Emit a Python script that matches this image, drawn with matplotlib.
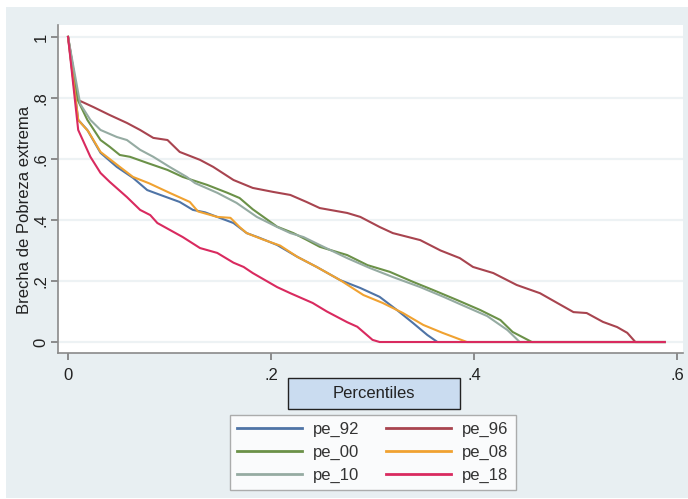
import matplotlib
matplotlib.use('Agg')
import matplotlib.pyplot as plt
from matplotlib.patches import Rectangle

plt.rcParams['font.family'] = ['Liberation Sans', 'DejaVu Sans']

# ── Data ─────────────────────────────────────────────────────────────────────
pe_92_x = [0, 0.010, 0.019, 0.032, 0.048, 0.064, 0.078, 0.091, 0.110, 0.123, 0.135, 0.147,
           0.163, 0.176, 0.189, 0.206, 0.226, 0.245, 0.268, 0.288, 0.307, 0.324, 0.340,
           0.354, 0.364, 0.588]
pe_92_y = [1, 0.728, 0.695, 0.620, 0.574, 0.538, 0.498, 0.482, 0.459, 0.433, 0.425, 0.410,
           0.390, 0.357, 0.341, 0.318, 0.279, 0.246, 0.203, 0.177, 0.148, 0.105, 0.062,
           0.023, 0, 0]

pe_96_x = [0, 0.010, 0.025, 0.041, 0.058, 0.071, 0.084, 0.098, 0.110, 0.130, 0.143, 0.163,
           0.182, 0.202, 0.219, 0.235, 0.248, 0.275, 0.288, 0.307, 0.320, 0.347, 0.367,
           0.386, 0.399, 0.419, 0.442, 0.465, 0.482, 0.498, 0.511, 0.527, 0.541, 0.551,
           0.559, 0.588]
pe_96_y = [1, 0.793, 0.770, 0.744, 0.718, 0.695, 0.669, 0.662, 0.623, 0.597, 0.574, 0.531,
           0.505, 0.492, 0.482, 0.459, 0.439, 0.423, 0.410, 0.377, 0.357, 0.334, 0.300,
           0.275, 0.246, 0.226, 0.187, 0.160, 0.128, 0.098, 0.095, 0.066, 0.049, 0.030,
           0, 0]

pe_00_x = [0, 0.010, 0.019, 0.032, 0.041, 0.051, 0.061, 0.078, 0.098, 0.113, 0.137, 0.157,
           0.169, 0.182, 0.206, 0.222, 0.235, 0.248, 0.275, 0.295, 0.317, 0.340, 0.360,
           0.383, 0.406, 0.426, 0.438, 0.457, 0.588]
pe_00_y = [1, 0.790, 0.728, 0.662, 0.640, 0.613, 0.607, 0.587, 0.564, 0.541, 0.515, 0.489,
           0.472, 0.435, 0.378, 0.357, 0.335, 0.312, 0.285, 0.252, 0.230, 0.197, 0.170,
           0.138, 0.105, 0.072, 0.033, 0, 0]

pe_08_x = [0, 0.010, 0.020, 0.032, 0.051, 0.064, 0.080, 0.100, 0.120, 0.128, 0.147, 0.160,
           0.169, 0.176, 0.192, 0.209, 0.226, 0.245, 0.268, 0.291, 0.310, 0.330, 0.350,
           0.369, 0.393, 0.588]
pe_08_y = [1, 0.728, 0.690, 0.623, 0.574, 0.541, 0.520, 0.489, 0.459, 0.428, 0.410, 0.407,
           0.377, 0.357, 0.336, 0.316, 0.279, 0.246, 0.203, 0.154, 0.128, 0.095, 0.056,
           0.030, 0, 0]

pe_10_x = [0, 0.012, 0.022, 0.032, 0.048, 0.058, 0.071, 0.084, 0.100, 0.117, 0.125, 0.147,
           0.166, 0.186, 0.206, 0.219, 0.232, 0.248, 0.275, 0.297, 0.320, 0.347, 0.370,
           0.389, 0.413, 0.433, 0.445, 0.588]
pe_10_y = [1, 0.780, 0.728, 0.695, 0.672, 0.662, 0.630, 0.607, 0.574, 0.541, 0.521, 0.489,
           0.456, 0.410, 0.377, 0.357, 0.344, 0.318, 0.275, 0.243, 0.213, 0.180, 0.148,
           0.120, 0.085, 0.039, 0, 0]

pe_18_x = [0, 0.010, 0.022, 0.032, 0.041, 0.058, 0.071, 0.081, 0.088, 0.113, 0.130, 0.147,
           0.163, 0.173, 0.182, 0.206, 0.219, 0.241, 0.255, 0.275, 0.285, 0.300, 0.307,
           0.588]
pe_18_y = [1, 0.695, 0.607, 0.554, 0.525, 0.475, 0.433, 0.416, 0.390, 0.344, 0.308, 0.292,
           0.260, 0.246, 0.226, 0.180, 0.160, 0.128, 0.100, 0.065, 0.050, 0.007, 0, 0]

series = [
    ('pe_92', pe_92_x, pe_92_y, '#4f74a6'),
    ('pe_96', pe_96_x, pe_96_y, '#a8444f'),
    ('pe_00', pe_00_x, pe_00_y, '#6b9148'),
    ('pe_08', pe_08_x, pe_08_y, '#f0a231'),
    ('pe_10', pe_10_x, pe_10_y, '#95aba2'),
    ('pe_18', pe_18_x, pe_18_y, '#d92a5f'),
]

x_ticks = [0, 0.2, 0.4, 0.6]
x_tick_labels = ['0', '.2', '.4', '.6']
y_ticks = [0, 0.2, 0.4, 0.6, 0.8, 1]
y_tick_labels = ['0', '.2', '.4', '.6', '.8', '1']

W, H = 688, 499
BG = '#e8eff2'
TXT = '#222222'

# ── Figure ───────────────────────────────────────────────────────────────────
fig = plt.figure(figsize=(W / 100, H / 100), dpi=100)
fig.patch.set_facecolor('white')
fig.patches.append(Rectangle((6 / W, 1 - 498 / H), (W - 6) / W, (498 - 7) / H,
                             transform=fig.transFigure, facecolor=BG, edgecolor='none',
                             zorder=-10))

ax = fig.add_axes([58 / W, 1 - 353 / H, (683 - 58) / W, (353 - 25) / H])
ax.set_facecolor('white')

handles = {}
for name, xs, ys, col in series:
    handles[name], = ax.plot(xs, ys, color=col, lw=1.5, label=name, solid_joinstyle='round')

ax.set_xlim(-0.0099, 0.6059)
ax.set_ylim(-0.036, 1.039)

ax.set_xticks(x_ticks, x_tick_labels)
ax.set_yticks(y_ticks, y_tick_labels)
ax.tick_params(axis='both', colors='#7a7a7a', length=5, width=1.2, labelcolor=TXT,
               labelsize=12)
for lab in ax.get_yticklabels():
    lab.set_rotation(90)
    lab.set_va('center')
ax.tick_params(axis='y', pad=2)
ax.tick_params(axis='x', pad=6)

ax.grid(axis='y', color='#edf2f4', lw=1.6)
ax.set_axisbelow(True)
for s in ['top', 'right']:
    ax.spines[s].set_visible(False)
for s in ['left', 'bottom']:
    ax.spines[s].set_color('#8a8a8a')
    ax.spines[s].set_linewidth(1.2)

ax.set_ylabel('Brecha de Pobreza extrema', fontsize=12, color=TXT)
ax.yaxis.set_label_coords(-0.042, 0.436)

# ── Legend title box ─────────────────────────────────────────────────────────
fig.patches.append(Rectangle((288 / W, 1 - 409 / H), (460 - 288) / W, (409 - 378) / H,
                             transform=fig.transFigure, facecolor='#cadcf0',
                             edgecolor='#222222', lw=1.0, zorder=5))
fig.text((288 + 460) / 2 / W, 1 - 394 / H, 'Percentiles', ha='center', va='center',
         fontsize=12, color=TXT, zorder=6)

# ── Legend ───────────────────────────────────────────────────────────────────
order = ['pe_92', 'pe_00', 'pe_10', 'pe_96', 'pe_08', 'pe_18']
leg = fig.legend([handles[n] for n in order], order, ncol=2, loc='center',
                 bbox_to_anchor=((224 + 522) / 2 / W, 1 - (412 + 493) / 2 / H),
                 frameon=True, fancybox=False, fontsize=12, handlelength=3.9,
                 handletextpad=0.65, columnspacing=1.6, labelspacing=0.45,
                 borderpad=0.45, labelcolor='#333333')
leg.get_frame().set_edgecolor('#9a9a9a')
leg.get_frame().set_linewidth(1.0)
for ln in leg.get_lines():
    ln.set_linewidth(2.0)

fig.savefig('out.png', dpi=100, facecolor=fig.get_facecolor())
